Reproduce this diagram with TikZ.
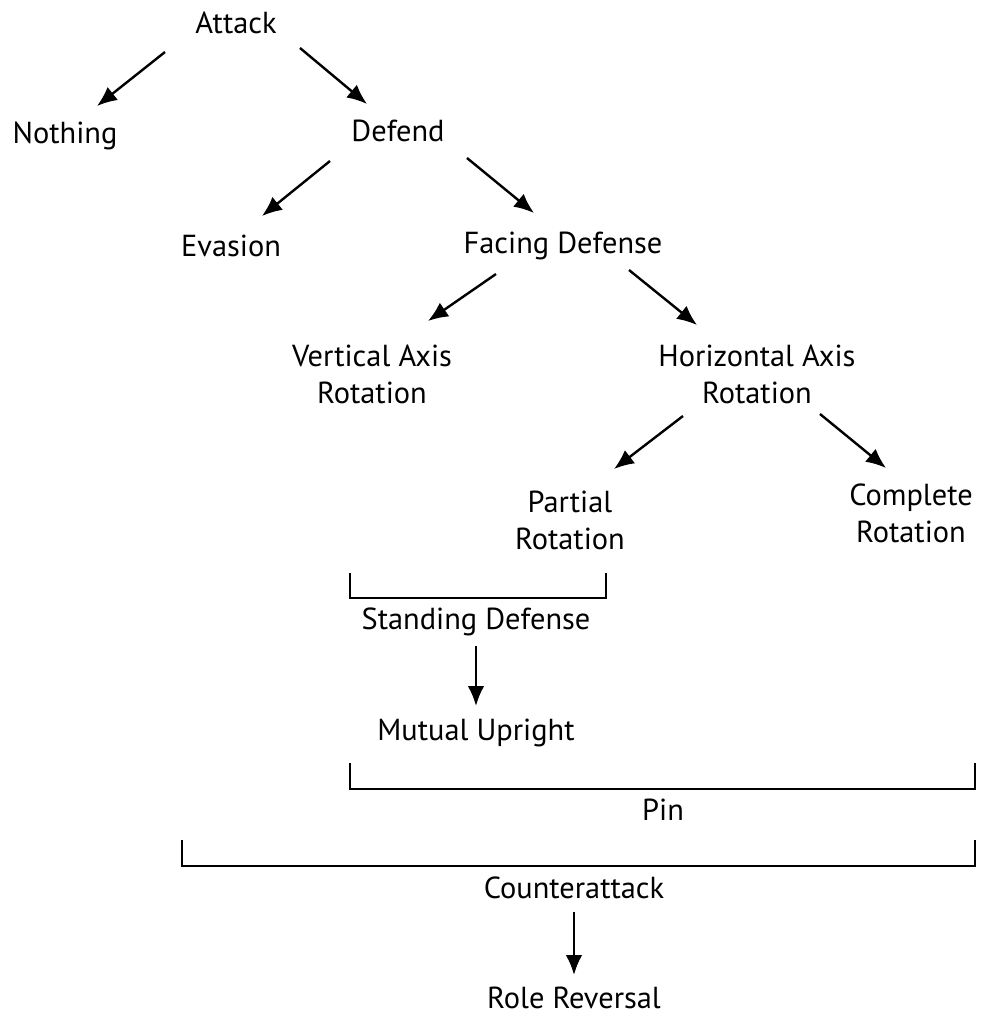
\documentclass[tikz,border=0pt]{standalone}
\usepackage{fontspec}
\setmainfont{PT Sans}
\usetikzlibrary{arrows.meta,calc}
\begin{document}
\begin{tikzpicture}[x=0.75pt,y=-0.75pt,
  lbl/.style={inner sep=0pt,align=center,font=\fontsize{22.8}{27.75}\selectfont},
  arr/.style={line width=1.8pt,-{Latex[length=15pt,width=12.5pt]}},
  brk/.style={line width=1.5pt}]
\useasboundingbox (0,0) rectangle (984,1015);
\node[lbl] (attack) at (236,23) {Attack};
\node[lbl] (nothing) at (65,136) {Nothing};
\node[lbl] (defend) at (398,131) {Defend};
\node[lbl] (evasion) at (231,246) {Evasion};
\node[lbl] (facing) at (563,246) {Facing Defense};
\node[lbl] (vertical) at (372,374) {Vertical Axis\\Rotation};
\node[lbl] (horizontal) at (757,374) {Horizontal Axis\\Rotation};
\node[lbl] (partial) at (570,520) {Partial\\Rotation};
\node[lbl] (complete) at (911,513) {Complete\\Rotation};
\node[lbl] (standing) at (476,622) {Standing Defense};
\node[lbl] (mutual) at (476,733) {Mutual Upright};
\node[lbl] (pin) at (663,810) {Pin};
\node[lbl] (counter) at (574,888) {Counterattack};
\node[lbl] (role) at (574,998) {Role Reversal};
% arrows
\draw[arr] ($(attack)+(-71,29)$) -- ($(nothing)+(32,-30)$);
\draw[arr] ($(attack)+(64,25)$) -- ($(defend)+(-31,-27)$);
\draw[arr] ($(defend)+(-68,30)$) -- ($(evasion)+(31,-30)$);
\draw[arr] ($(defend)+(69,27)$) -- ($(facing)+(-29,-33)$);
\draw[arr] ($(facing)+(-67,28)$) -- ($(vertical)+(56,-53)$);
\draw[arr] ($(facing)+(66,24)$) -- ($(horizontal)+(-60,-49)$);
\draw[arr] ($(horizontal)+(-74,42)$) -- ($(partial)+(44,-51)$);
\draw[arr] ($(horizontal)+(63,40)$) -- ($(complete)+(-25,-45)$);
\draw[arr] ($(standing)+(0,24)$) -- ($(mutual)+(0,-27)$);
\draw[arr] ($(counter)+(0,24)$) -- ($(role)+(0,-23)$);
% brackets
\draw[brk] ($(standing)+(-126,-49)$) -- ++(0,25) -- ++(256,0) -- ++(0,-25);
\draw[brk] ($(pin)+(-313,-47)$) -- ++(0,26) -- ++(625,0) -- ++(0,-26);
\draw[brk] ($(counter)+(-392,-48)$) -- ++(0,26) -- ++(793,0) -- ++(0,-26);
\end{tikzpicture}
\end{document}
